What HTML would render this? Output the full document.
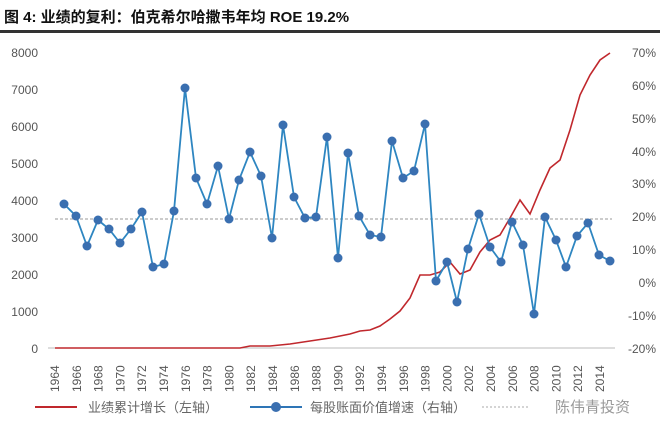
<!DOCTYPE html>
<html><head><meta charset="utf-8"><style>
html,body{margin:0;padding:0;background:#fff;width:660px;height:430px;overflow:hidden}
svg{display:block}
text{font-family:"Liberation Sans","Noto Sans CJK SC",sans-serif}
</style></head><body>
<svg width="660" height="430" viewBox="0 0 660 430">
<text x="4" y="22" font-size="15" font-weight="bold" fill="#111" font-family="'Liberation Sans','Noto Sans CJK SC',sans-serif">图 4:  业绩的复利：伯克希尔哈撒韦年均 ROE 19.2%</text>
<rect x="0" y="30" width="660" height="3" fill="#333"/>
<g font-size="12" fill="#555" text-anchor="end">
<text x="38" y="57">8000</text><text x="38" y="94">7000</text><text x="38" y="131">6000</text><text x="38" y="168">5000</text><text x="38" y="205">4000</text><text x="38" y="242">3000</text><text x="38" y="279">2000</text><text x="38" y="316">1000</text><text x="38" y="353">0</text>
</g>
<g font-size="12" fill="#555" text-anchor="end">
<text x="656" y="57">70%</text><text x="656" y="90">60%</text><text x="656" y="123">50%</text><text x="656" y="156">40%</text><text x="656" y="188">30%</text><text x="656" y="221">20%</text><text x="656" y="254">10%</text><text x="656" y="287">0%</text><text x="656" y="320">-10%</text><text x="656" y="353">-20%</text>
</g>
<line x1="48" y1="348" x2="615" y2="348" stroke="#bbb" stroke-width="1"/>
<g font-size="12" fill="#555" id="xl"></g>
<line x1="55" y1="219" x2="612" y2="219" stroke="#999" stroke-width="1" stroke-dasharray="3,2"/>
<polyline fill="none" stroke="#c0282d" stroke-width="1.6" points="55,348 240,348 250,346 270,346 290,344 310,341 330,338 350,334 360,331 370,330 380,326 390,319 400,311 410,298 420,275 430,275 440,272 450,262 460,274 470,270 480,252 490,240 500,235 510,218 520,200 530,214 540,190 550,168 560,160 570,130 580,95 590,75 600,60 610,53"/>
<g id="bl"></g>
<line x1="35" y1="407" x2="77" y2="407" stroke="#c0282d" stroke-width="2"/>
<text x="88" y="412" font-size="13" fill="#666">业绩累计增长（左轴）</text>
<line x1="250" y1="407" x2="302" y2="407" stroke="#2e75b6" stroke-width="2"/>
<circle cx="276" cy="407" r="5" fill="#3a6fb0"/>
<text x="310" y="412" font-size="13" fill="#666">每股账面价值增速（右轴）</text>
<line x1="482" y1="407" x2="530" y2="407" stroke="#aaa" stroke-dasharray="2,2"/>
<text x="555" y="412" font-size="15" fill="#999">陈伟青投资</text>
</svg>
<script>
var ns="http://www.w3.org/2000/svg",xl=document.getElementById('xl');
for(var y=1964;y<=2014;y+=2){var x=55+(y-1964)*10.9;var t=document.createElementNS(ns,'text');t.setAttribute('transform','translate('+(x+4)+',392) rotate(-90)');t.textContent=y;xl.appendChild(t);}
var p=[[64,204],[76,216],[87,246],[98,220],[109,229],[120,243],[131,229],[142,212],[153,267],[164,264],[174,211],[185,88],[196,178],[207,204],[218,166],[229,219],[239,180],[250,152],[261,176],[272,238],[283,125],[294,197],[305,218],[316,217],[327,137],[338,258],[348,153],[359,216],[370,235],[381,237],[392,141],[403,178],[414,171],[425,124],[436,281],[447,262],[457,302],[468,249],[479,214],[490,247],[501,262],[512,222],[523,245],[534,314],[545,217],[556,240],[566,267],[577,236],[588,223],[599,255],[610,261]];
var bl=document.getElementById('bl');var pl=document.createElementNS(ns,'polyline');pl.setAttribute('points',p.map(function(a){return a.join(',')}).join(' '));pl.setAttribute('fill','none');pl.setAttribute('stroke','#2e86c1');pl.setAttribute('stroke-width','1.8');bl.appendChild(pl);
p.forEach(function(a){var c=document.createElementNS(ns,'circle');c.setAttribute('cx',a[0]);c.setAttribute('cy',a[1]);c.setAttribute('r','4.5');c.setAttribute('fill','#3a6fb0');bl.appendChild(c);});
</script>
</body></html>
